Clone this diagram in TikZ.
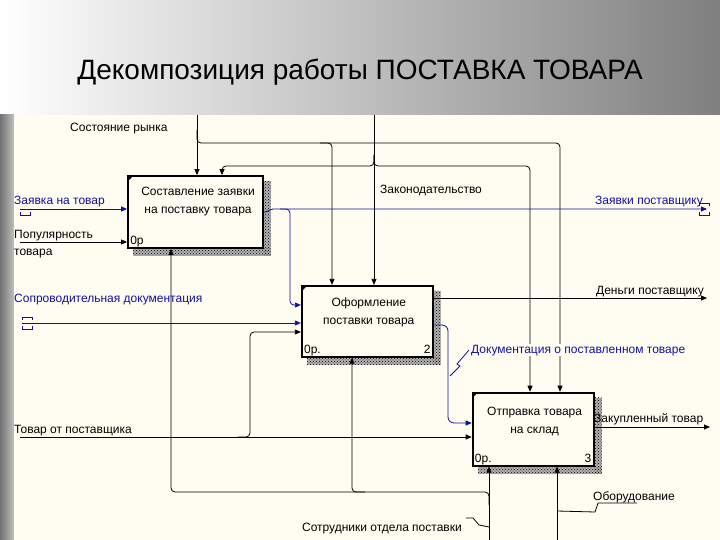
\documentclass[tikz,border=0pt]{standalone}
\usepackage{fontspec}
\setmainfont{Liberation Sans}
\usepackage{tikz}
\usetikzlibrary{arrows.meta,
positioning,
calc,
backgrounds,
patterns}
\definecolor{paper}{RGB}{255,253,241}
\definecolor{idefblue}{RGB}{16,16,160}

\begin{document}
\begin{tikzpicture}[
    x=1pt, y=-1pt,
    >={Triangle[length=6pt,width=5pt]},
    box/.style={
        draw,
        line width=1.8pt,
        fill=paper,
        inner sep=0pt
    },
    boxtext/.style={align=center, inner sep=0pt, font=\fontsize{12}{18}\selectfont},
    lbl/.style={inner sep=0pt, font=\fontsize{12}{17}\selectfont},
    arr/.style={->, line width=0.8pt},
    arrb/.style={arr, draw=idefblue},
    squig/.style={line width=0.8pt},
    rc/.style={rounded corners=4pt},
    shadowbox/.style={pattern=crosshatch dots, pattern color=black},
    tunnel/.pic={\draw[line width=0.8pt] (-5,-3) -- (-5,-6) -- (5,-6) -- (5,-3)
                                         (-5,3) -- (-5,6) -- (5,6) -- (5,3);},
    lowtunnel/.pic={\draw[line width=0.8pt] (-5,3) -- (-5,6) -- (5,6) -- (5,3);}
]
\useasboundingbox (0,0) rectangle (720,540);

\node[font=\fontsize{28}{32}\selectfont, anchor=base] (title) at (360,80) {Декомпозиция работы ПОСТАВКА ТОВАРА};

\node[box, minimum width=135pt, minimum height=72pt] (b1) at (195.5,212) {};
\node[box, minimum width=131pt, minimum height=71pt, below right=36pt and 37pt of b1] (b2) {};
\node[box, minimum width=121pt, minimum height=73pt, below right=34pt and 38pt of b2] (b3) {};

\node[boxtext] (t1) at ($(b1.center)+(2.5,-10)$) {Составление заявки\\на поставку товара};
\node[boxtext] (t2) at ($(b2.center)+(1.5,-9)$) {Оформление\\поставки товара};
\node[boxtext] (t3) at ($(b3.center)+(1.5,-8)$) {Отправка товара\\на склад};
\node[lbl, anchor=base west] (c1) at ($(b1.south west)+(3,-4)$) {0р};
\node[lbl, anchor=base west] (c2) at ($(b2.south west)+(3,-4)$) {0р.};
\node[lbl, anchor=base east] (n2) at ($(b2.south east)+(-3,-4)$) {2};
\node[lbl, anchor=base west] (c3) at ($(b3.south west)+(3,-4)$) {0р.};
\node[lbl, anchor=base east] (n3) at ($(b3.south east)+(-3,-4)$) {3};
\foreach \b in {b1,b2,b3}
    \fill ($(\b.north west)+(1,1)$) -- ++(5,0) -- ++(-5,5) -- cycle;

\coordinate (mkt) at (197,115);
\coordinate (law) at (374,115);
\coordinate (req) at (20,209);
\coordinate (pop) at (20,242);
\coordinate (doc) at (22,323);
\coordinate (goods) at (20,437);
\coordinate (toSup) at (707,209);
\coordinate (money) at (707,298);
\coordinate (bought) at (710,427);
\coordinate (staff) at (489,540);
\coordinate (equip) at (557,540);

\draw[arr] (mkt) -- (mkt |- b1.north);
\draw[arr, rc] (197,130) -- (197,143) -- (560,143) -- (560,143 |- b3.north);
\draw[arr, rc] (320,143) -- (332,143) -- (332,143 |- b2.north);
\draw[arr] (law) -- (law |- b2.north);
\draw[arr, rc] (374,155) -- (374,166) -- (222,166) -- (222,166 |- b1.north);
\draw[arr, rc] (374,155) -- (374,166) -- (530,166) -- (530,166 |- b3.north);

\draw[arrb] (req) -- (req -| b1.west);
\draw[arr] (pop) -- (pop -| b1.west);
\draw[arrb, rounded corners=2pt] (b1.east) -- (267,212) -- (271,209) -- (toSup);
\draw[arrb, rc] (280,209) -- (290,209) -- (290,305) -- (290,305 -| b2.west);
\draw[arrb] (doc) -- (doc -| b2.west);
\draw[arr] (goods) -- (goods -| b3.west);
\draw[arr, rc] (238,437) -- (250,437) -- (250,332) -- (250,332 -| b2.west);

\draw[arr] (b2.east |- money) -- (money);
\draw[arrb, rounded corners=6pt] (448,325 -| b2.east) -- (448,325) -- (448,423) -- (448,423 -| b3.west);
\draw[arr] (b3.east |- bought) -- (bought);

\draw[arr] (staff) -- (staff |- b3.south);
\draw[arr] (equip) -- (equip |- b3.south);
\draw[arr, rc] (489,505) -- (489,492) -- (171,492) -- (171,492 |- b1.south);
\draw[arr, rc] (365,492) -- (352,492) -- (352,492 |- b2.south);

\draw[squig, idefblue] (450,376) -- (460,366) -- (457,364) -- (463,357) -- (469,350);
\draw[squig] (466,518) -- (473,518) -- (479,525) -- (489,527);
\draw[squig] (557,511) -- (595,512) -- (598,503) -- (637,503);

\pic[idefblue] at (25,209) {lowtunnel};
\pic[idefblue] at (27,323) {tunnel};
\pic[idefblue] at (704,209) {tunnel};

\node[lbl, anchor=base west] (lmkt) at (70,132) {Состояние рынка};
\node[lbl, anchor=base west] (llaw) at (380,194) {Законодательство};
\node[lbl, anchor=base west, text=idefblue] (lreq) at (14,205) {Заявка на товар};
\node[lbl, anchor=base west] (lpop) at (14,238) {Популярность};
\node[lbl, anchor=base west] (lpop2) at (14,255) {товара};
\node[lbl, anchor=base west, text=idefblue] (ldoc) at (14,302) {Сопроводительная документация};
\node[lbl, anchor=base west] (lgoods) at (14,433) {Товар от поставщика};
\node[lbl, anchor=base east, text=idefblue] (ltoSup) at (703,205) {Заявки поставщику};
\node[lbl, anchor=base east] (lmoney) at (704,294) {Деньги поставщику};
\node[lbl, anchor=base west, text=idefblue, fill=paper, inner sep=1pt] (lrep) at (470,353) {Документация о поставленном товаре};
\node[lbl, anchor=base west] (lbought) at (594,422) {Закупленный товар};
\node[lbl, anchor=base west] (lequip) at (593,500) {Оборудование};
\node[lbl, anchor=base east] (lstaff) at (462,531) {Сотрудники отдела поставки};

\begin{scope}[on background layer]
\shade[left color=white, middle color=black!14, right color=black!50] (0,0) rectangle (720,115);
\shade[left color=black!55, right color=black!25] (0,115) rectangle (14,540);
\fill[paper] (14,115) rectangle (720,540);
\foreach \b in {b1,b2,b3}{
    \fill[black!30] ($(\b.north east)+(0,6)$) rectangle ($(\b.south east)+(7,7)$);
    \fill[black!30] ($(\b.south west)+(6,0)$) rectangle ($(\b.south east)+(7,7)$);
    \fill[shadowbox] ($(\b.north east)+(0,6)$) rectangle ($(\b.south east)+(7,7)$);
    \fill[shadowbox] ($(\b.south west)+(6,0)$) rectangle ($(\b.south east)+(7,7)$);
}
\end{scope}

\end{tikzpicture}
\end{document}
